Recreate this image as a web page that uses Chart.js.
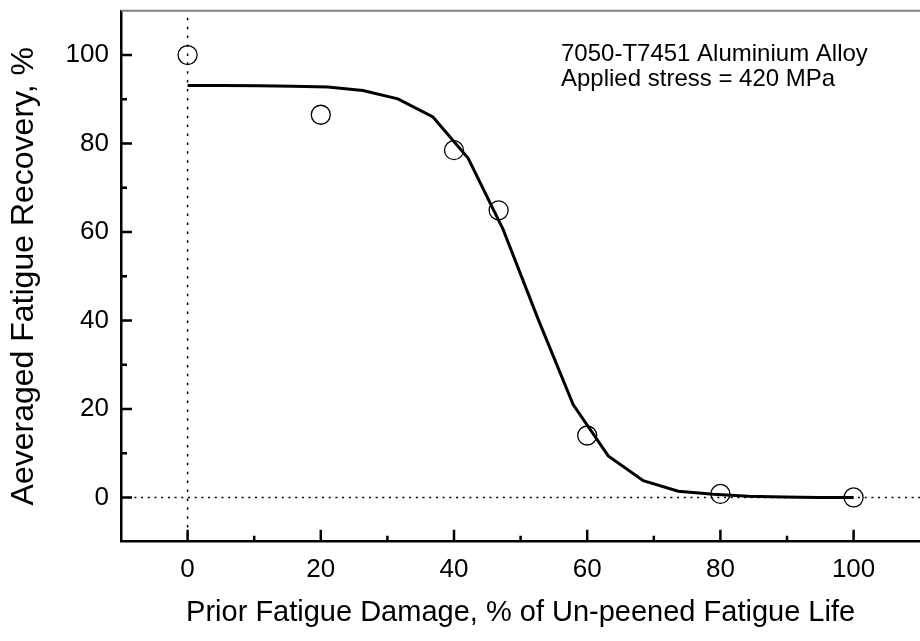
<!DOCTYPE html>
<html>
<head>
<meta charset="utf-8">
<script src="https://cdn.jsdelivr.net/npm/chart.js@4/dist/chart.umd.min.js"></script>
<style>
html, body { margin: 0; padding: 0; overflow: hidden; background: #fff; }
canvas { display: block; }
</style>
</head>
<body>
<canvas id="c" width="931" height="641"></canvas>
<script>
// ---- data ----
const measuredDamage = [0, 20, 40, 46.7, 60, 80, 100];
const measuredRecovery = [100, 86.5, 78.5, 64.9, 14.0, 0.8, 0];

const fitDamage = [0, 5.26, 10.53, 15.79, 21.05, 26.32, 31.58, 36.84, 42.11, 47.37,
                   52.63, 57.89, 63.16, 68.42, 73.68, 78.95, 84.21, 89.47, 94.74, 100];
const fitRecovery = [93.1, 93.1, 93.05, 92.95, 92.75, 92.0, 90.1, 86.0, 76.7, 60.6,
                     40.3, 21.0, 9.4, 3.8, 1.4, 0.7, 0.3, 0.1, 0.0, 0.0];

const xMajorTicks = [0, 20, 40, 60, 80, 100];
const xMinorTicks = [10, 30, 50, 70, 90];
const yMajorTicks = [0, 20, 40, 60, 80, 100];
const yMinorTicks = [10, 30, 50, 70, 90];

const xTitle = 'Prior Fatigue Damage, % of Un-peened Fatigue Life';
const yTitle = 'Aeveraged Fatigue Recovery, %';
const noteLines = ['7050-T7451 Aluminium Alloy', 'Applied stress = 420 MPa'];

// ---- chart ----
const FONT = '"Liberation Sans", Arial, Helvetica, sans-serif';
Chart.defaults.font.family = FONT;
Chart.defaults.color = '#000';

const decor = {
  id: 'decor',
  beforeDatasetsDraw(chart) {
    const { ctx, chartArea: a, scales: { x, y } } = chart;
    ctx.save();
    ctx.strokeStyle = '#000';
    ctx.lineWidth = 1.5;
    const x0 = x.getPixelForValue(0);
    ctx.setLineDash([2.5, 6.4]);
    ctx.beginPath(); ctx.moveTo(x0, a.top + 7); ctx.lineTo(x0, a.bottom); ctx.stroke();
    const y0 = y.getPixelForValue(0);
    ctx.setLineDash([2, 4.7]);
    ctx.beginPath(); ctx.moveTo(a.left, y0); ctx.lineTo(a.right, y0); ctx.stroke();
    ctx.restore();
  },
  afterDraw(chart) {
    const { ctx, chartArea: a, scales: { x, y } } = chart;
    ctx.save();
    // top frame line
    ctx.strokeStyle = '#808080';
    ctx.lineWidth = 2;
    ctx.beginPath(); ctx.moveTo(a.left, a.top); ctx.lineTo(a.right, a.top); ctx.stroke();
    // inner ticks
    ctx.strokeStyle = '#000';
    ctx.lineWidth = 2.5;
    ctx.beginPath();
    xMajorTicks.forEach(v => { const p = x.getPixelForValue(v); ctx.moveTo(p, a.bottom); ctx.lineTo(p, a.bottom - 12); });
    xMinorTicks.forEach(v => { const p = x.getPixelForValue(v); ctx.moveTo(p, a.bottom); ctx.lineTo(p, a.bottom - 6); });
    yMajorTicks.forEach(v => { const p = y.getPixelForValue(v); ctx.moveTo(a.left, p); ctx.lineTo(a.left + 11, p); });
    yMinorTicks.forEach(v => { const p = y.getPixelForValue(v); ctx.moveTo(a.left, p); ctx.lineTo(a.left + 6, p); });
    ctx.stroke();
    // annotation
    ctx.fillStyle = '#000';
    ctx.font = '24px ' + FONT;
    ctx.textAlign = 'left';
    ctx.textBaseline = 'alphabetic';
    ctx.fillText(noteLines[0], a.left + 440, a.top + 50.5);
    ctx.fillText(noteLines[1], a.left + 440, a.top + 75.5);
    ctx.restore();
  }
};

new Chart(document.getElementById('c'), {
  type: 'scatter',
  data: {
    datasets: [
      {
        type: 'line',
        data: fitDamage.map((v, i) => ({ x: v, y: fitRecovery[i] })),
        borderColor: '#000',
        borderWidth: 3,
        pointRadius: 0,
        tension: 0,
        fill: false
      },
      {
        type: 'scatter',
        data: measuredDamage.map((v, i) => ({ x: v, y: measuredRecovery[i] })),
        pointStyle: 'circle',
        pointRadius: 9.5,
        pointBorderWidth: 1.3,
        borderColor: '#000',
        backgroundColor: 'rgba(0,0,0,0)',
        showLine: false
      }
    ]
  },
  options: {
    responsive: false,
    animation: false,
    events: [],
    layout: { padding: { top: 6, left: 0, right: 1.6, bottom: 0 } },
    plugins: { legend: { display: false }, tooltip: { enabled: false } },
    scales: {
      x: {
        type: 'linear',
        min: -10,
        max: 110,
        afterBuildTicks: s => { s.ticks = xMajorTicks.map(v => ({ value: v })); },
        afterFit: s => { s.height = 99.3; s.paddingLeft = 0; s.paddingRight = 0; },
        grid: { display: false, drawTicks: false },
        border: { display: true, color: '#000', width: 2.5 },
        ticks: { padding: 13, font: { size: 26 }, color: '#000', autoSkip: false, maxRotation: 0 },
        title: { display: true, text: xTitle, font: { size: 29 }, color: '#000', padding: { top: 0, bottom: 10.6 } }
      },
      y: {
        type: 'linear',
        min: -10,
        max: 110,
        afterBuildTicks: s => { s.ticks = yMajorTicks.map(v => ({ value: v })); },
        afterFit: s => { s.width = 121; s.paddingTop = 0; s.paddingBottom = 0; },
        grid: { display: false, drawTicks: false },
        border: { display: true, color: '#000', width: 2.5 },
        ticks: { padding: 12, font: { size: 26 }, color: '#000', autoSkip: false },
        title: { display: true, text: yTitle, font: { size: 32 }, color: '#000', padding: { top: 5, bottom: 0 } }
      }
    }
  },
  plugins: [decor]
});
</script>
</body>
</html>
